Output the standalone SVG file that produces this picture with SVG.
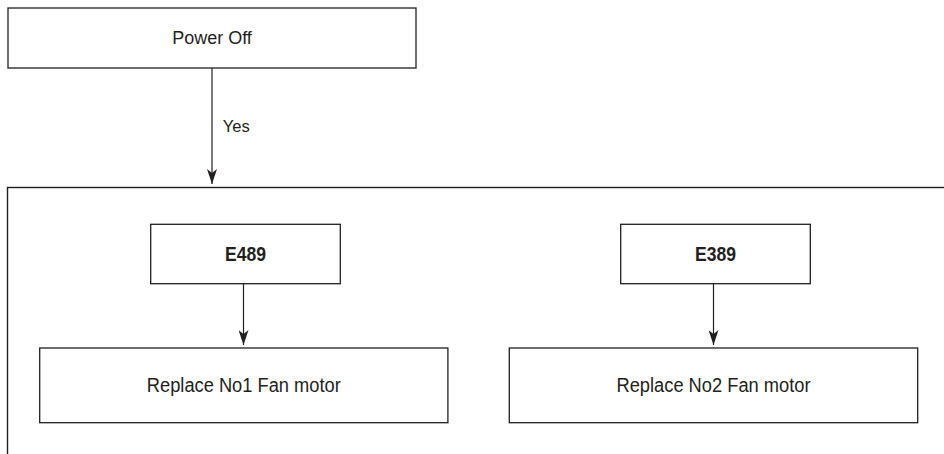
<svg xmlns="http://www.w3.org/2000/svg" width="944" height="454" viewBox="0 0 944 454">
<defs>
<style>
.box{fill:#fff;stroke:#231f20;stroke-width:1.3}
.frame{fill:none;stroke:#231f20;stroke-width:1.4}
.t{font-family:"Liberation Sans",Arial,sans-serif;fill:#231f20;text-anchor:middle}
.b{font-weight:bold}
.conn{stroke:#231f20;stroke-width:1.2;fill:none}
</style>
<marker id="ah" viewBox="0 0 15 10" refX="15" refY="5" markerWidth="15" markerHeight="10" markerUnits="userSpaceOnUse" orient="auto">
<path d="M0,0 L15,5 L0,10 L4,5 Z" fill="#231f20"/>
</marker>
</defs>
<g id="frame">
<rect class="frame" x="7.5" y="187.5" width="960" height="300"/>
</g>
<g id="power-off">
<rect class="box" x="8" y="8" width="408" height="60"/>
<text class="t" x="212" y="44.3" font-size="18">Power Off</text>
</g>
<g id="e489">
<rect class="box" x="150.7" y="224.3" width="189.6" height="59.4"/>
<text class="t b" x="245.5" y="260.7" font-size="19.5" textLength="41" lengthAdjust="spacingAndGlyphs">E489</text>
</g>
<g id="e389">
<rect class="box" x="620.7" y="224.3" width="189.6" height="59.4"/>
<text class="t b" x="715.5" y="260.7" font-size="19.5" textLength="41" lengthAdjust="spacingAndGlyphs">E389</text>
</g>
<g id="replace1">
<rect class="box" x="39.7" y="348" width="408.2" height="74.7"/>
<text class="t" x="243.8" y="391.7" font-size="20" textLength="194" lengthAdjust="spacingAndGlyphs">Replace No1 Fan motor</text>
</g>
<g id="replace2">
<rect class="box" x="509.3" y="348" width="408.4" height="74.7"/>
<text class="t" x="713.5" y="391.7" font-size="20" textLength="194" lengthAdjust="spacingAndGlyphs">Replace No2 Fan motor</text>
</g>
<g id="connectors">
<line class="conn" x1="212" y1="68" x2="212" y2="184" marker-end="url(#ah)"/>
<text class="t" x="236.2" y="131.7" font-size="17" textLength="27" lengthAdjust="spacingAndGlyphs">Yes</text>
<line class="conn" x1="243.5" y1="283.7" x2="243.5" y2="345" marker-end="url(#ah)"/>
<line class="conn" x1="713.5" y1="283.7" x2="713.5" y2="345" marker-end="url(#ah)"/>
</g>
</svg>
